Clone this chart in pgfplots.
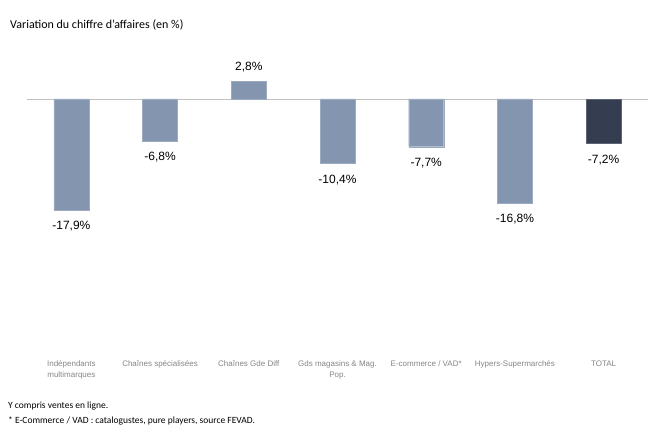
\documentclass[border=0pt]{standalone}
\usepackage{pgfplots}
\pgfplotsset{compat=1.18}
\usepackage{fontspec}
\setmainfont{Liberation Sans}
\newfontfamily\calibri{Carlito}
\definecolor{barblue}{HTML}{8496AF}
\definecolor{bardark}{HTML}{343E50}
\definecolor{zeroline}{HTML}{BFBFBF}
\definecolor{ticktext}{HTML}{858585}
\begin{document}
\begin{tikzpicture}
\path[use as bounding box] (0,0) rectangle (671pt,435pt);
\node[anchor=west, inner sep=0pt, font=\calibri\fontsize{12pt}{14pt}\selectfont] at (10pt,410pt) {Variation du chiffre d’affaires (en \%)};
\node[anchor=base west, inner sep=0pt, font=\calibri\fontsize{9.5pt}{11pt}\selectfont] at (8pt,26pt) {Y compris ventes en ligne.};
\node[anchor=base west, inner sep=0pt, font=\calibri\fontsize{9.5pt}{11pt}\selectfont] at (8pt,11pt) {* E-Commerce / VAD : catalogustes, pure players, source FEVAD.};
\begin{axis}[
  at={(27pt,88pt)}, anchor=south west,
  scale only axis, width=621pt, height=297.6pt,
  xmin=-0.5, xmax=6.5, ymin=-40, ymax=8,
  axis line style={draw=none}, tick style={draw=none},
  ytick=\empty,
  xtick={0,1,2,3,4,5,6},
  xticklabels={{Indépendants\\multimarques},{Chaînes spécialisées},{Chaînes Gde Diff},{Gds magasins \& Mag.\\Pop.},{E-commerce / VAD*},{Hypers-Supermarchés},{TOTAL}},
  xticklabel style={align=center, font=\fontsize{8pt}{11pt}\selectfont, text=ticktext, yshift=-6pt},
  ybar, bar width=35pt, bar shift=0pt,
  point meta=explicit symbolic,
  nodes near coords,
  every node near coord/.append style={font=\fontsize{12pt}{14pt}\selectfont, inner sep=9pt, text=black},
  clip=false,
]
\draw[zeroline, line width=0.8pt] (axis cs:-0.5,0) -- (axis cs:6.5,0);
\addplot[fill=barblue, draw=barblue!80!white, every node near coord/.append style={anchor=north, yshift=-2pt}] coordinates {
(0,-17.9) [-17,9\%]
(1,-6.8) [-6,8\%]
(3,-10.4) [-10,4\%]
(4,-7.7) [-7,7\%]
(5,-16.8) [-16,8\%]
};
\addplot[fill=barblue, draw=barblue!80!white, every node near coord/.append style={anchor=south}] coordinates {
(2,2.8) [2,8\%]
};
\addplot[fill=bardark, draw=bardark!80!white, every node near coord/.append style={anchor=north, yshift=-2pt}] coordinates {
(6,-7.2) [-7,2\%]
};
\end{axis}
\end{tikzpicture}
\end{document}
